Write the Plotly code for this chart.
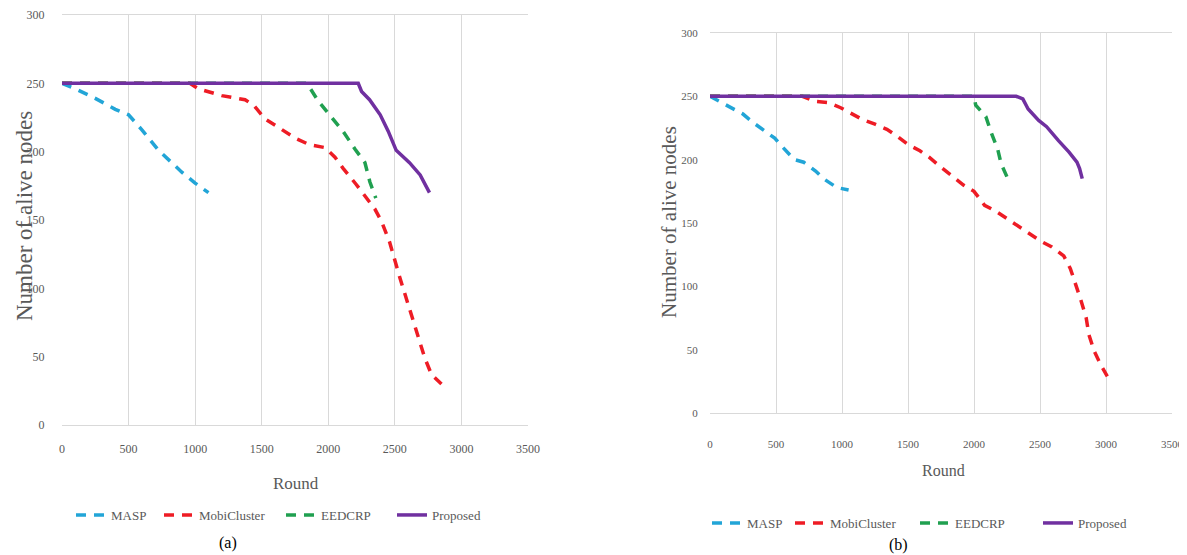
import plotly.graph_objects as go

# ---------------- data ----------------
series_names = ["MASP", "MobiCluster", "EEDCRP", "Proposed"]
x_ticks = [0, 500, 1000, 1500, 2000, 2500, 3000, 3500]
y_ticks = [0, 50, 100, 150, 200, 250, 300]

# (a)
masp_a_round = [0, 100, 250, 400, 500, 600, 725, 900, 1000, 1100]
masp_a_alive = [250, 246, 239, 231, 227, 216, 201, 185, 177, 170]

mobi_a_round = [0, 960, 1025, 1200, 1375, 1440, 1525, 1650, 1750, 1860, 1975, 2050, 2110,
                2210, 2275, 2350, 2400, 2460, 2540, 2640, 2725, 2775, 2850]
mobi_a_alive = [250, 250, 246, 241, 238, 234, 224, 216, 210, 205, 203, 196, 188,
                176, 168, 158, 149, 134, 107, 76, 49, 37, 30]

eed_a_round = [0, 1840, 1925, 2000, 2110, 2200, 2275, 2312, 2357]
eed_a_alive = [250, 250, 237, 228, 215, 202, 192, 178, 166]

prop_a_round = [0, 2225, 2250, 2310, 2390, 2450, 2510, 2610, 2690, 2760]
prop_a_alive = [250, 250, 244, 238, 227, 215, 201, 192, 183, 170]

# (b)
masp_b_round = [0, 150, 250, 330, 490, 540, 640, 710, 800, 860, 960, 1050]
masp_b_alive = [250, 242, 236, 229, 217, 211, 200, 198, 191, 185, 178, 176]

mobi_b_round = [0, 700, 800, 900, 990, 1075, 1150, 1250, 1340, 1425, 1500, 1590, 1660,
                1750, 1830, 1920, 2000, 2080, 2170, 2255, 2335, 2420, 2500, 2590,
                2680, 2730, 2770, 2810, 2850, 2870, 2910, 2960, 3010]
mobi_b_alive = [250, 250, 246, 245, 241, 236, 232, 228, 224, 218, 212, 207, 202,
                194, 187, 180, 175, 164, 159, 153, 148, 142, 136, 131,
                124, 114, 102, 89, 75, 62, 49, 38, 29]

eed_b_round = [0, 2000, 2013, 2090, 2128, 2180, 2205, 2256]
eed_b_alive = [250, 250, 243, 234, 222, 208, 197, 185]

prop_b_round = [0, 2320, 2370, 2410, 2490, 2550, 2640, 2720, 2780, 2800, 2820]
prop_b_alive = [250, 250, 248, 240, 231, 226, 215, 206, 198, 193, 185]

# ---------------- styling ----------------
colors = {"MASP": "#22A5D7", "MobiCluster": "#EE1C25", "EEDCRP": "#20A050", "Proposed": "#7030A0"}
legend_widths_a = {"MASP": 43, "MobiCluster": 77, "EEDCRP": 66, "Proposed": 60}
legend_widths_b = {"MASP": 38, "MobiCluster": 80, "EEDCRP": 78, "Proposed": 60}
FONT = "Liberation Serif"
GRAY = "#595959"
DASH = "10px,8px"
W, H = 1187, 555
OFF = 8  # the page body adds an 8px margin; layout positions below are page pixels


def px(x):
    return (x - OFF) / W


def py(y):
    return 1 - (y - OFF) / H


fig = go.Figure()

panels = [
    ("x", "y", "legend", legend_widths_a,
     [(masp_a_round, masp_a_alive), (mobi_a_round, mobi_a_alive),
      (eed_a_round, eed_a_alive), (prop_a_round, prop_a_alive)]),
    ("x2", "y2", "legend2", legend_widths_b,
     [(masp_b_round, masp_b_alive), (mobi_b_round, mobi_b_alive),
      (eed_b_round, eed_b_alive), (prop_b_round, prop_b_alive)]),
]
for xa, ya, lg, lw, data in panels:
    for name, (xs, ys) in zip(series_names, data):
        solid = name == "Proposed"
        fig.add_trace(go.Scatter(
            x=xs, y=ys, mode="lines", name=name,
            xaxis=xa, yaxis=ya, legend=lg, legendwidth=lw[name],
            line=dict(color=colors[name], width=3.5,
                      dash="solid" if solid else DASH),
        ))


def xaxis(domain, anchor, fsize, tlen):
    return dict(domain=domain, anchor=anchor, range=[0, 3500], tickvals=x_ticks,
                showgrid=True, gridcolor="#D9D9D9", gridwidth=1,
                showline=True, linecolor="#D9D9D9", linewidth=1, mirror=True,
                ticks="outside", ticklen=tlen, tickcolor="rgba(0,0,0,0)",
                tickfont=dict(family=FONT, size=fsize, color=GRAY), zeroline=False,
                automargin=False)


def yaxis(domain, anchor, fsize, tlen):
    return dict(domain=domain, anchor=anchor, range=[0, 300], tickvals=y_ticks,
                showgrid=False, showline=False, zeroline=False,
                ticks="outside", ticklen=tlen, tickcolor="rgba(0,0,0,0)",
                tickfont=dict(family=FONT, size=fsize, color=GRAY), automargin=False)


fig.update_layout(
    width=W, height=H, autosize=False,
    margin=dict(l=0, r=0, t=0, b=0, autoexpand=False),
    paper_bgcolor="white", plot_bgcolor="white",
    font=dict(family=FONT, color=GRAY),
    xaxis=xaxis([px(62), px(528)], "y", 12, 13),
    yaxis=yaxis([py(425), py(15)], "x", 12, 14),
    xaxis2=xaxis([px(710), px(1172)], "y2", 11, 21),
    yaxis2=yaxis([py(413), py(33)], "x2", 11, 9),
    legend=dict(orientation="h", x=px(71), y=py(515), xanchor="left", yanchor="middle",
                font=dict(family=FONT, size=13, color=GRAY), itemwidth=30,
                bgcolor="rgba(0,0,0,0)"),
    legend2=dict(orientation="h", x=px(707), y=py(523), xanchor="left", yanchor="middle",
                 font=dict(family=FONT, size=13, color=GRAY), itemwidth=30,
                 bgcolor="rgba(0,0,0,0)"),
    showlegend=True,
)

annotations = [
    dict(text="Round", x=px(296), y=py(483), font=dict(size=17, color=GRAY)),
    dict(text="Round", x=px(943), y=py(470), font=dict(size=16, color=GRAY)),
    dict(text="Number of alive nodes", x=px(25), y=py(216), textangle=-90,
         font=dict(size=23, color=GRAY)),
    dict(text="Number of alive nodes", x=px(669), y=py(222), textangle=-90,
         font=dict(size=21, color=GRAY)),
    dict(text="(a)", x=px(228), y=py(543), font=dict(size=16, color="#000000")),
    dict(text="(b)", x=px(898), y=py(545), font=dict(size=16, color="#000000")),
]
for a in annotations:
    a.update(xref="paper", yref="paper", showarrow=False, xanchor="center", yanchor="middle")
    a["font"]["family"] = FONT
fig.update_layout(annotations=annotations)

fig.write_html("out.html")
